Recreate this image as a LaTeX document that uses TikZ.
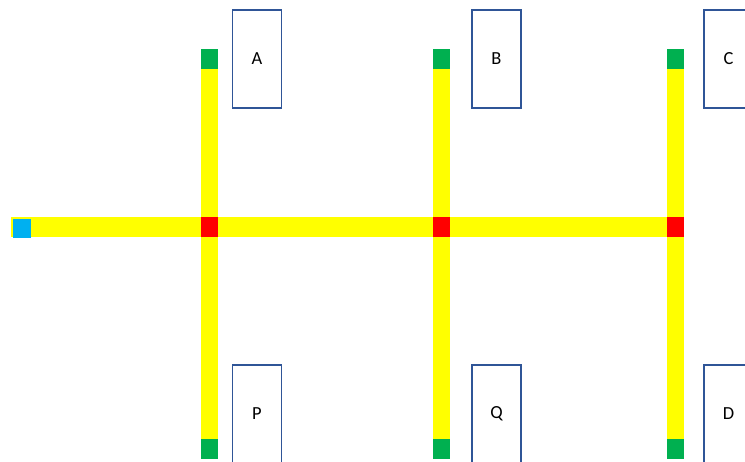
\documentclass[tikz,border=0pt]{standalone}
\usepackage{fontspec}
\setmainfont{Carlito}
\usetikzlibrary{backgrounds}

\definecolor{barYellow}{HTML}{FFFF00}
\definecolor{jointRed}{HTML}{FF0000}
\definecolor{endGreen}{HTML}{00B050}
\definecolor{feedBlue}{HTML}{00B0F0}
\definecolor{boxBlue}{HTML}{2F5597}

\begin{document}
\begin{tikzpicture}[x=0.02cm,y=-0.02cm,line width=0.45pt,
    sq/.style={minimum width=0.34cm,minimum height=0.40cm,inner sep=0pt,draw=none},
    tag/.style={draw=boxBlue,line width=0.85pt,minimum width=0.98cm,
      minimum height=1.96cm,inner sep=0pt,font=\fontsize{10.5}{12}\selectfont},
    bar/.style={draw=barYellow,line width=0.34cm}]
  \useasboundingbox (0,0) rectangle (745,461);
  \clip (0,0) rectangle (745,461);

  % feed and junctions
  \node[sq,fill=feedBlue,minimum width=0.36cm,minimum height=0.38cm] (src) at (22,228.5) {};
  \coordinate (w) at (11,227);
  \node[sq,fill=jointRed] (j1) at (209.5,227) {};
  \node[sq,fill=jointRed] (j2) at (441.5,227) {};
  \node[sq,fill=jointRed] (j3) at (675.5,227) {};

  % end caps
  \node[sq,fill=endGreen] (t1) at (209.5,59) {};
  \node[sq,fill=endGreen] (t2) at (441.5,59) {};
  \node[sq,fill=endGreen] (t3) at (675.5,59) {};
  \node[sq,fill=endGreen] (b1) at (209.5,449) {};
  \node[sq,fill=endGreen] (b2) at (441.5,449) {};
  \node[sq,fill=endGreen] (b3) at (675.5,449) {};

  \begin{pgfonlayer}{background}
    \draw[bar,line width=0.40cm] (w) -- (j3.east);
    \draw[bar] (t1.center) -- (b1.center);
    \draw[bar] (t2.center) -- (b2.center);
    \draw[bar] (t3.center) -- (b3.center);
  \end{pgfonlayer}

  % labels
  \node[tag] (A) at (257,59) {A};
  \node[tag] (B) at (496.5,59) {B};
  \node[tag] (C) at (728.5,59) {C};
  \node[tag] (P) at (257,414) {P};
  \node[tag] (Q) at (496.5,414) {Q};
  \node[tag] (D) at (728.5,414) {D};
\end{tikzpicture}
\end{document}
